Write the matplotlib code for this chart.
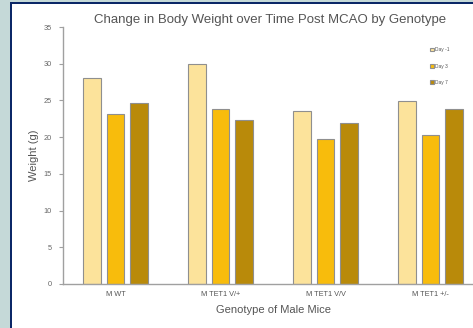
import matplotlib.pyplot as plt
import numpy as np
from matplotlib.patches import Rectangle

plt.rcParams['font.family'] = ['Liberation Sans', 'DejaVu Sans']

genotypes = ['M WT', 'M TET1 V/+', 'M TET1 V/V', 'M TET1 +/-']
days = ['Day -1', 'Day 3', 'Day 7']
day_m1 = [28.1, 30.0, 23.6, 24.9]
day_3 = [23.1, 23.8, 19.8, 20.3]
day_7 = [24.7, 22.4, 21.9, 23.8]
colors = ['#fce39b', '#f8bc0c', '#b98a0a']

W, H = 473, 328
fig = plt.figure(figsize=(W / 100, H / 100), dpi=100)
fig.patch.set_facecolor('white')

# frame: light strip + navy border on the left and top
fig.patches.append(Rectangle((0, 0), 9.5 / W, 1, transform=fig.transFigure,
                             facecolor='#c5d9d8', edgecolor='none'))
fig.patches.append(Rectangle((9.5 / W, 0), 2.2 / W, 1, transform=fig.transFigure,
                             facecolor='#0b2767', edgecolor='none'))
fig.patches.append(Rectangle((0, 1 - 1.5 / H), 1, 1.5 / H, transform=fig.transFigure,
                             facecolor='#c5d9d8', edgecolor='none'))
fig.patches.append(Rectangle((9.5 / W, 1 - 4 / H), 1, 2.5 / H, transform=fig.transFigure,
                             facecolor='#0b2767', edgecolor='none'))

ax = fig.add_axes([63 / W, 44 / H, 420 / W, 257 / H])
ax.set_facecolor('none')

x = np.arange(len(genotypes))
bw = 0.17
off = 0.222
for i, (vals, lab) in enumerate(zip([day_m1, day_3, day_7], days)):
    ax.bar(x + (i - 1) * off, vals, bw, color=colors[i], edgecolor='#8f8f8f',
           linewidth=0.8, label=lab, zorder=2)

ax.set_xlim(-0.5, 3.5)
ax.set_ylim(0, 35)
ax.set_yticks(range(0, 36, 5))
ax.set_xticks(x)
ax.set_xticklabels(genotypes)
for s in ['top', 'right']:
    ax.spines[s].set_visible(False)
for s in ['left', 'bottom']:
    ax.spines[s].set_color('#a0a0a0')
    ax.spines[s].set_linewidth(1.0)
ax.tick_params(axis='y', labelsize=5.3, colors='#a0a0a0', labelcolor='#666666',
               length=3, width=0.8, pad=5)
ax.tick_params(axis='x', labelsize=5.3, length=0, labelcolor='#555555', pad=5)

ax.set_ylabel('Weight (g)', fontsize=8, color='#555555', labelpad=3.5)
ax.set_xlabel('Genotype of Male Mice', fontsize=8, color='#555555', labelpad=5)
fig.text(270 / W, 1 - 20 / H, 'Change in Body Weight over Time Post MCAO by Genotype',
         fontsize=9.5, color='#555555', ha='center', va='center')

leg = fig.legend(loc='upper left', bbox_to_anchor=(426 / W, 1 - 43 / H),
                 frameon=False, fontsize=3.5, handlelength=0.7, handleheight=0.7,
                 handletextpad=0.2, labelspacing=2.3)
for t in leg.get_texts():
    t.set_color('#555555')

fig.savefig('out.png', dpi=100)
